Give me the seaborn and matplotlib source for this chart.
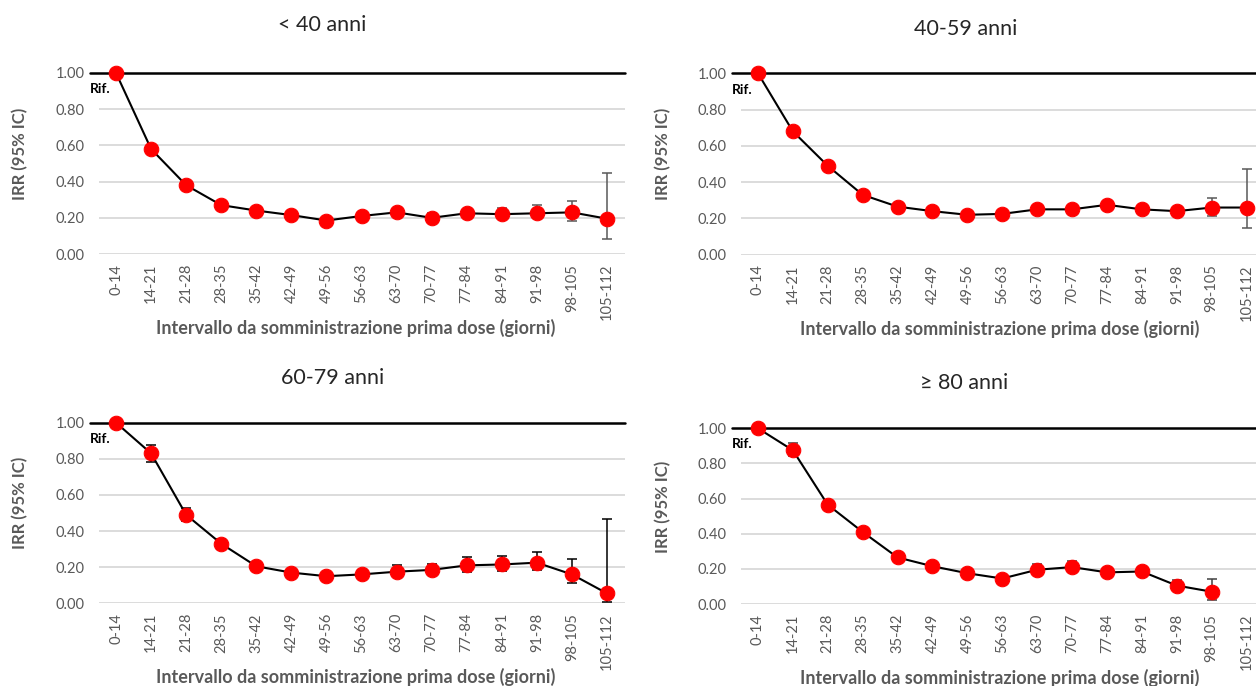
import numpy as np
import pandas as pd
import matplotlib
matplotlib.use("Agg")
import matplotlib.pyplot as plt
import seaborn as sns

# ------------------------------------------------------------------
# Data (IRR with 95% CI per interval since dose 1)
# ------------------------------------------------------------------
intervals = ["0-14", "14-21", "21-28", "28-35", "35-42", "42-49", "49-56", "56-63",
             "63-70", "70-77", "77-84", "84-91", "91-98", "98-105", "105-112"]

irr_lt40 = [1.00, 0.58, 0.38, 0.27, 0.24, 0.215, 0.185, 0.21, 0.23, 0.20, 0.225, 0.22, 0.225, 0.23, 0.195]
lo_lt40 = [1.00, 0.56, 0.37, 0.26, 0.23, 0.205, 0.175, 0.20, 0.215, 0.185, 0.21, 0.20, 0.20, 0.185, 0.085]
hi_lt40 = [1.00, 0.60, 0.39, 0.285, 0.255, 0.23, 0.195, 0.225, 0.245, 0.225, 0.245, 0.255, 0.27, 0.295, 0.445]

irr_40_59 = [1.00, 0.68, 0.49, 0.33, 0.265, 0.24, 0.22, 0.225, 0.25, 0.25, 0.275, 0.25, 0.24, 0.26, 0.26]
lo_40_59 = [1.00, 0.67, 0.48, 0.32, 0.255, 0.23, 0.21, 0.215, 0.235, 0.235, 0.26, 0.235, 0.22, 0.215, 0.145]
hi_40_59 = [1.00, 0.695, 0.50, 0.34, 0.275, 0.25, 0.23, 0.235, 0.265, 0.265, 0.29, 0.265, 0.255, 0.31, 0.475]

irr_60_79 = [1.00, 0.83, 0.49, 0.33, 0.205, 0.17, 0.15, 0.16, 0.175, 0.185, 0.21, 0.215, 0.225, 0.16, 0.055]
lo_60_79 = [1.00, 0.785, 0.455, 0.30, 0.19, 0.155, 0.135, 0.14, 0.155, 0.165, 0.175, 0.18, 0.185, 0.11, 0.005]
hi_60_79 = [1.00, 0.875, 0.525, 0.355, 0.22, 0.185, 0.165, 0.185, 0.21, 0.22, 0.255, 0.26, 0.285, 0.245, 0.465]

irr_ge80 = [1.00, 0.875, 0.565, 0.41, 0.265, 0.215, 0.175, 0.145, 0.195, 0.21, 0.18, 0.185, 0.105, 0.07, np.nan]
lo_ge80 = [1.00, 0.84, 0.55, 0.395, 0.25, 0.20, 0.16, 0.13, 0.175, 0.185, 0.16, 0.165, 0.08, 0.02, np.nan]
hi_ge80 = [1.00, 0.915, 0.585, 0.43, 0.28, 0.23, 0.19, 0.16, 0.225, 0.245, 0.205, 0.21, 0.135, 0.14, np.nan]

titles = ["< 40 anni", "40-59 anni", "60-79 anni", "\u2265 80 anni"]
xlabel = "Intervallo da somministrazione prima dose (giorni)"
ylabel = "IRR (95% IC)"

# ------------------------------------------------------------------
# Style
# ------------------------------------------------------------------
sns.set_style("white")
plt.rcParams["font.family"] = ["Lato", "DejaVu Sans"]
GREY = "#595959"

W, H = 1256, 686
fig = plt.figure(figsize=(W / 100, H / 100), dpi=100)


def add_box(left, right, top, bottom):
    # axes placed in pixel coordinates of the reference
    return fig.add_axes([left / W, 1 - bottom / H, (right - left) / W, (bottom - top) / H])


panels = [
    (irr_lt40, lo_lt40, hi_lt40, GREY, (98.5, 624.5, 73, 254), (322, 25), 0.4895),
    (irr_40_59, lo_40_59, hi_40_59, GREY, (740.5, 1264, 73.3, 254.7), (966, 29), 0.4957),
    (irr_60_79, lo_60_79, hi_60_79, "black", (98.5, 624.5, 422.7, 603.3), (333, 378), 0.4895),
    (irr_ge80, lo_ge80, hi_ge80, "#404040", (740.5, 1264, 428.3, 604), (964, 383), 0.4957),
]

idx = np.arange(len(intervals))

for (irr, lo, hi, ecol, box, tpos, xl_x), title in zip(panels, titles):
    ax = add_box(*box)
    irr_a, lo_a, hi_a = np.array(irr), np.array(lo), np.array(hi)
    df = pd.DataFrame({"idx": idx, "irr": irr_a})

    ax.errorbar(idx, irr_a, yerr=[irr_a - lo_a, hi_a - irr_a], fmt="none",
                ecolor=ecol, elinewidth=1.1, capsize=3.8, capthick=1.1, zorder=3)
    sns.lineplot(data=df, x="idx", y="irr", ax=ax, color="black", lw=1.5,
                 marker="o", markersize=10.5, markerfacecolor="red",
                 markeredgecolor="red", clip_on=False, zorder=4)

    # reference line at IRR = 1
    ax.axhline(1.0, xmin=-0.017, xmax=1, color="black", lw=1.8, clip_on=False, zorder=2)
    ax.text(-0.74, 0.91, "Rif.", fontsize=10, fontweight="bold", color="black",
            ha="left", va="center")

    ax.set_xlim(-0.5, 14.5)
    ax.set_ylim(0, 1)
    ax.set_yticks(np.arange(0, 1.01, 0.2))
    ax.set_yticklabels([f"{v:.2f}" for v in np.arange(0, 1.01, 0.2)], fontsize=10.5)
    ax.set_xticks(idx)
    ax.set_xticklabels(intervals, rotation=90, fontsize=10.5)
    ax.tick_params(length=0, colors=GREY, labelcolor=GREY)
    ax.tick_params(axis="y", pad=10)
    ax.tick_params(axis="x", pad=7)
    ax.grid(axis="y", color="#d9d9d9", lw=1.3)
    ax.set_axisbelow(True)
    sns.despine(ax=ax, left=True, bottom=True)

    ph = box[3] - box[2]
    ax.set_xlabel(xlabel, fontsize=13, fontweight="bold", color=GREY)
    ax.xaxis.set_label_coords(xl_x, -65 / ph)
    ax.set_ylabel(ylabel, fontsize=12, fontweight="bold", color=GREY)
    ax.yaxis.set_label_coords(-0.133, 0.555)

    fig.text(tpos[0] / W, 1 - tpos[1] / H, title, fontsize=15.5, ha="center", va="center")

fig.savefig("out.png", dpi=100)
